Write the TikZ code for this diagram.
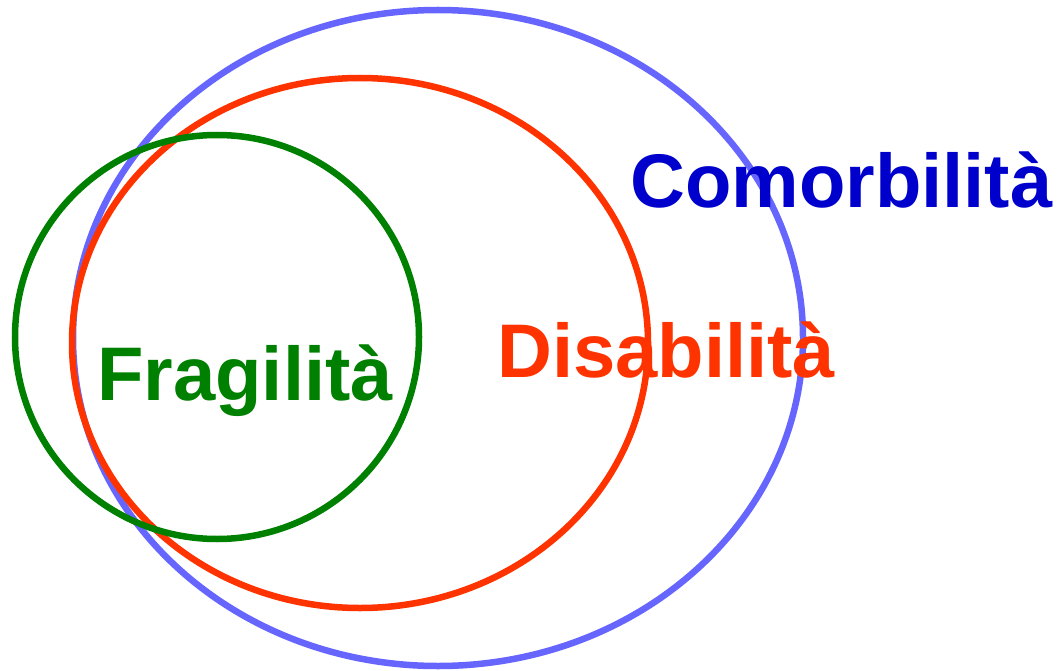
\documentclass[tikz,border=0pt]{standalone}
\usepackage{fontspec}
\setmainfont{Liberation Sans}
\definecolor{comorb}{RGB}{102,102,255}
\definecolor{comorbtxt}{RGB}{0,0,204}
\definecolor{disab}{RGB}{255,51,0}
\definecolor{fragil}{RGB}{0,128,0}
\begin{document}
\begin{tikzpicture}[x=1pt,y=-1pt,ring/.style={line width=6.5pt},lbl/.style={anchor=base west,inner sep=0pt,font=\fontsize{76}{90}\selectfont\bfseries}]
\useasboundingbox (0,0) rectangle (1059,671);

\draw[ring,comorb] (438,338) ellipse (365 and 328);
\draw[ring,disab] (360,343) ellipse (288 and 265);
\draw[ring,fragil] (217,337) circle (202);

\node[lbl,comorbtxt] (C) at (630,207) {Comorbilità};
\node[lbl,disab] (D) at (497,377) {Disabilità};
\node[lbl,fragil] (F) at (97,400) {Fragilità};
\end{tikzpicture}
\end{document}
